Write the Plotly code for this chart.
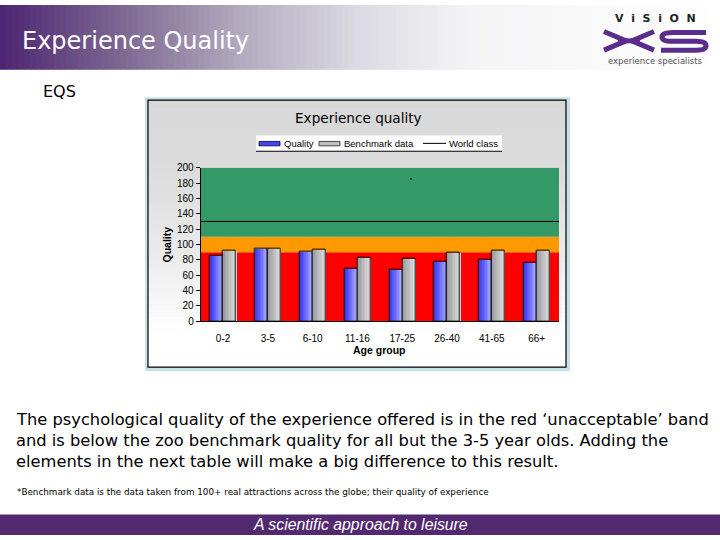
import plotly.graph_objects as go

# ---------------- data ----------------
age_groups = ["0-2", "3-5", "6-10", "11-16", "17-25", "26-40", "41-65", "66+"]
quality = [85, 94.5, 91, 69, 67, 78, 80.5, 76.5]
benchmark = [92, 94.5, 93.5, 83, 82, 89, 91.5, 91.5]
world_class = 130
band_red = (0, 90)
band_orange = (90, 110)
band_green = (110, 200)
y_ticks = [0, 20, 40, 60, 80, 100, 120, 140, 160, 180, 200]

body_lines = [
    "The psychological quality of the experience offered is in the red \u2018unacceptable\u2019 band",
    "and is below the zoo benchmark quality for all but the 3-5 year olds. Adding the",
    "elements in the next table will make a big difference to this result.",
]
footnote = "*Benchmark data is the data taken from 100+ real attractions across the globe; their quality of experience"

W, H = 720, 540


def px(x):
    return x / W


def py(y):
    return 1 - y / H


def lerp_color(stops, t):
    for i in range(len(stops) - 1):
        t0, c0 = stops[i]
        t1, c1 = stops[i + 1]
        if t0 <= t <= t1:
            f = (t - t0) / (t1 - t0) if t1 > t0 else 0
            c = [round(c0[k] + (c1[k] - c0[k]) * f) for k in range(3)]
            return "rgb(%d,%d,%d)" % tuple(c)
    c = stops[-1][1]
    return "rgb(%d,%d,%d)" % tuple(c)


shapes = []

# header gradient
hstops = [(0, (78, 36, 114)), (120, (124, 103, 145)), (240, (178, 170, 190)),
          (360, (220, 219, 227)), (470, (244, 244, 246)), (720, (255, 255, 255))]
step = 6
for x0 in range(0, W, step):
    shapes.append(dict(type="rect", xref="paper", yref="paper", layer="below",
                       x0=px(x0), x1=px(x0 + step + 0.5), y0=py(66), y1=py(0),
                       fillcolor=lerp_color(hstops, x0 + step / 2), line=dict(width=0)))

# footer bar
shapes.append(dict(type="rect", xref="paper", yref="paper", layer="below",
                   x0=0, x1=1, y0=0, y1=py(519), fillcolor="#52286f", line=dict(width=0)))

# chart frame (light blue border)
shapes.append(dict(type="rect", xref="paper", yref="paper", layer="below",
                   x0=px(145), x1=px(570), y0=py(373), y1=py(94),
                   fillcolor="#c4e2e7", line=dict(width=0)))
# inner gradient background
gstops = [(97, (216, 216, 216)), (170, (220, 220, 220)), (260, (236, 236, 236)), (335, (255, 255, 255)), (370, (255, 255, 255))]
for y0 in range(97, 369, 4):
    shapes.append(dict(type="rect", xref="paper", yref="paper", layer="below",
                       x0=px(148), x1=px(566), y0=py(min(y0 + 4.5, 369)), y1=py(y0),
                       fillcolor=lerp_color(gstops, y0 + 2), line=dict(width=0)))
shapes.append(dict(type="rect", xref="paper", yref="paper", layer="below",
                   x0=px(148), x1=px(566), y0=py(369), y1=py(97),
                   fillcolor="rgba(0,0,0,0)", line=dict(width=1.2, color="#000000")))

# bands on the data axis
for (lo, hi), col in [(band_red, "#ff0000"), (band_orange, "#ff9900"), (band_green, "#339966")]:
    shapes.append(dict(type="rect", xref="x domain", yref="y", layer="below",
                       x0=0, x1=1, y0=lo, y1=hi, fillcolor=col, line=dict(width=0)))

# small stray dot in the green band
shapes.append(dict(type="rect", xref="paper", yref="paper",
                   x0=px(410.3), x1=px(411.8), y0=py(177.8), y1=py(176.3),
                   fillcolor="#000000", line=dict(width=0)))

fig = go.Figure()

bar_w = 0.29
N = 8
q_stops = [(0, (50, 50, 235)), (0.5, (110, 110, 255)), (1, (178, 182, 255))]
b_stops = [(0, (150, 150, 158)), (0.5, (190, 190, 192)), (1, (222, 222, 222))]
for series, vals, stops, start in [("Quality", quality, q_stops, -bar_w),
                                    ("Benchmark data", benchmark, b_stops, 0.0)]:
    for i in range(N):
        fig.add_trace(go.Bar(
            x=age_groups, y=vals, width=bar_w / N + 0.005, offset=start + i * bar_w / N,
            marker=dict(color=lerp_color(stops, (i + 0.5) / N), line=dict(width=0)),
            showlegend=False, hoverinfo="skip"))
    fig.add_trace(go.Bar(
        x=age_groups, y=vals, width=bar_w, offset=start, name=series,
        marker=dict(color="rgba(0,0,0,0)", line=dict(width=1, color="#111111")),
        showlegend=False))

# world class line
fig.add_trace(go.Scatter(x=[-0.5, len(age_groups) - 0.5], y=[world_class, world_class],
                         mode="lines", line=dict(color="#000000", width=1),
                         showlegend=False, hoverinfo="skip", xaxis="x2", yaxis="y"))

annotations = []
# legend box drawn manually
shapes.append(dict(type="rect", xref="paper", yref="paper",
                   x0=px(256), x1=px(502), y0=py(149), y1=py(133),
                   fillcolor="#ffffff", line=dict(width=0)))
shapes.append(dict(type="line", xref="paper", yref="paper",
                   x0=px(256), x1=px(502), y0=py(149), y1=py(149),
                   line=dict(width=1, color="#000000")))
# legend symbols
shapes.append(dict(type="rect", xref="paper", yref="paper",
                   x0=px(259), x1=px(280), y0=py(143.5), y1=py(139),
                   fillcolor="#4646e6", line=dict(width=0.8, color="#000044")))
shapes.append(dict(type="rect", xref="paper", yref="paper",
                   x0=px(319), x1=px(340), y0=py(143.5), y1=py(139),
                   fillcolor="#c0c0c0", line=dict(width=0.8, color="#222222")))
shapes.append(dict(type="line", xref="paper", yref="paper",
                   x0=px(423), x1=px(446), y0=py(141), y1=py(141),
                   line=dict(width=1, color="#000000")))
for xx, t in [(282, "Quality"), (342, "Benchmark data"), (447, "World class")]:
    annotations.append(dict(xref="paper", yref="paper", x=px(xx), y=py(141), text=t,
                            showarrow=False, xanchor="left", yanchor="middle",
                            font=dict(family="Liberation Sans", size=9.5, color="#000000")))

# chart title and axis titles
annotations.append(dict(xref="paper", yref="paper", x=px(358), y=py(115), text="Experience quality",
                        showarrow=False, xanchor="center", yanchor="middle",
                        font=dict(family="DejaVu Sans", size=13.6, color="#000000")))
annotations.append(dict(xref="paper", yref="paper", x=px(379), y=py(352), text="<b>Age group</b>",
                        showarrow=False, xanchor="center", yanchor="middle",
                        font=dict(family="Liberation Sans", size=10.5, color="#000000")))
annotations.append(dict(xref="paper", yref="paper", x=px(167), y=py(244), text="<b>Quality</b>",
                        showarrow=False, xanchor="center", yanchor="middle", textangle=-90,
                        font=dict(family="Liberation Sans", size=10.5, color="#000000")))

# slide texts
annotations.append(dict(xref="paper", yref="paper", x=px(20), y=py(37), text="Experience Quality",
                        showarrow=False, xanchor="left", yanchor="middle",
                        font=dict(family="DejaVu Sans", size=24, color="#ffffff")))
annotations.append(dict(xref="paper", yref="paper", x=px(41), y=py(88), text="EQS",
                        showarrow=False, xanchor="left", yanchor="middle",
                        font=dict(family="DejaVu Sans", size=16, color="#000000")))
for i, line in enumerate(body_lines):
    annotations.append(dict(xref="paper", yref="paper", x=px(14), y=py(422 + i * 21.5), text=line,
                            showarrow=False, xanchor="left", yanchor="middle",
                            font=dict(family="DejaVu Sans", size=16.3, color="#000000")))
annotations.append(dict(xref="paper", yref="paper", x=px(15), y=py(496), text=footnote,
                        showarrow=False, xanchor="left", yanchor="middle",
                        font=dict(family="DejaVu Sans", size=8.8, color="#000000")))
annotations.append(dict(xref="paper", yref="paper", x=0.5, y=py(529.5), text="<i>A scientific approach to leisure</i>",
                        showarrow=False, xanchor="center", yanchor="middle",
                        font=dict(family="Liberation Sans", size=15.8, color="#ffffff")))

# logo
annotations.append(dict(xref="paper", yref="paper", x=px(655), y=py(13.5), text="<b>V  i  S  i  O  N</b>",
                        showarrow=False, xanchor="center", yanchor="middle",
                        font=dict(family="DejaVu Sans", size=11, color="#222222")))
annotations.append(dict(xref="paper", yref="paper", x=px(655), y=py(57), text="experience specialists",
                        showarrow=False, xanchor="center", yanchor="middle",
                        font=dict(family="DejaVu Sans", size=8.5, color="#555555")))
logo_col = "#5a2d8c"
for (ax0, ay0, ax1, ay1) in [(604, 27, 626, 36.5), (626, 36.5, 604, 46),
                             (654, 27, 632, 36.5), (632, 36.5, 654, 46),
                             (618, 36.5, 640, 36.5)]:
    shapes.append(dict(type="line", xref="paper", yref="paper",
                       x0=px(ax0), y0=py(ay0), x1=px(ax1), y1=py(ay1),
                       line=dict(width=5, color=logo_col)))


def P(x, y):
    return "%.5f,%.5f" % (px(x), py(y))


s_path = ("M " + P(706, 28) + " L " + P(673, 28) + " Q " + P(662, 28) + " " + P(662, 32.5) +
          " Q " + P(662, 37) + " " + P(673, 37) + " L " + P(696, 37) + " Q " + P(706, 37) + " " +
          P(706, 41.5) + " Q " + P(706, 46) + " " + P(696, 46) + " L " + P(661, 46))
shapes.append(dict(type="path", xref="paper", yref="paper", path=s_path,
                   line=dict(width=5, color=logo_col)))

xdom = [px(200.7), px(559)]
ydom = [py(322.3), py(165.7)]

fig.update_layout(
    width=W, height=H, margin=dict(l=0, r=0, t=0, b=0),
    paper_bgcolor="#ffffff", plot_bgcolor="rgba(0,0,0,0)",
    barmode="overlay", bargap=0, showlegend=False,
    shapes=shapes, annotations=annotations,
    xaxis=dict(domain=xdom, type="category", categoryorder="array", categoryarray=age_groups,
               range=[-0.5, len(age_groups) - 0.5], showgrid=False, zeroline=False,
               showline=True, linecolor="#000000", linewidth=1,
               ticks="", tickfont=dict(family="Liberation Sans", size=10, color="#000000"),
               ticklabelstandoff=8, fixedrange=True),
    xaxis2=dict(domain=xdom, range=[-0.5, len(age_groups) - 0.5], overlaying="x",
                visible=False, fixedrange=True),
    yaxis=dict(domain=ydom, range=[0, 200], tickvals=y_ticks, showgrid=False, zeroline=False,
               showline=True, linecolor="#000000", linewidth=1, ticks="outside", ticklen=4,
               tickcolor="#000000",
               tickfont=dict(family="Liberation Sans", size=10, color="#000000"), fixedrange=True),
)

post = ("document.body.style.margin='0';document.body.style.padding='0';"
        "var d=document.getElementById('{plot_id}');d.style.position='fixed';"
        "d.style.left='0px';d.style.top='0px';")
fig.write_html("out.html", config={"displayModeBar": False}, post_script=post)
